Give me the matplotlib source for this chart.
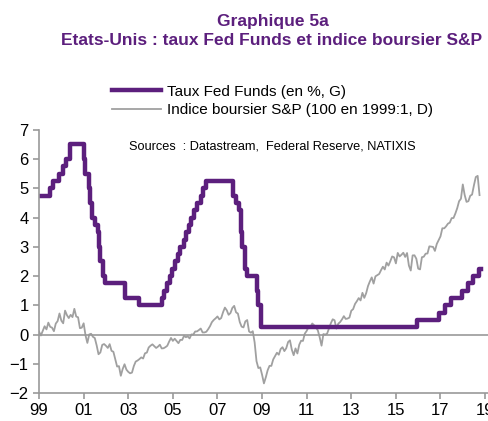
import numpy as np
import matplotlib
matplotlib.use("Agg")
import matplotlib.pyplot as plt

plt.rcParams['font.family'] = ['Liberation Sans', 'DejaVu Sans']

# Fed funds target: change dates (year, month, day) and new rate, %
fed_dates = [(1999, 1, 1), (1999, 6, 30), (1999, 8, 24), (1999, 11, 16), (2000, 2, 2),
             (2000, 3, 21), (2000, 5, 16), (2001, 1, 3), (2001, 1, 31), (2001, 3, 20),
             (2001, 4, 18), (2001, 5, 15), (2001, 6, 27), (2001, 8, 21), (2001, 9, 17),
             (2001, 10, 2), (2001, 11, 6), (2001, 12, 11), (2002, 11, 6), (2003, 6, 25),
             (2004, 6, 30), (2004, 8, 10), (2004, 9, 21), (2004, 11, 10), (2004, 12, 14),
             (2005, 2, 2), (2005, 3, 22), (2005, 5, 3), (2005, 6, 30), (2005, 8, 9),
             (2005, 9, 20), (2005, 11, 1), (2005, 12, 13), (2006, 1, 31), (2006, 3, 28),
             (2006, 5, 10), (2006, 6, 29), (2007, 9, 18), (2007, 10, 31), (2007, 12, 11),
             (2008, 1, 22), (2008, 1, 30), (2008, 3, 18), (2008, 4, 30), (2008, 10, 8),
             (2008, 10, 29), (2008, 12, 16), (2015, 12, 16), (2016, 12, 14), (2017, 3, 15),
             (2017, 6, 14), (2017, 12, 13), (2018, 3, 21), (2018, 6, 13), (2018, 9, 26),
             (2018, 10, 31)]
fed_rates = [4.75, 5.00, 5.25, 5.50, 5.75, 6.00, 6.50, 6.00, 5.50, 5.00,
             4.50, 4.00, 3.75, 3.50, 3.00, 2.50, 2.00, 1.75, 1.25, 1.00,
             1.25, 1.50, 1.75, 2.00, 2.25, 2.50, 2.75, 3.00, 3.25, 3.50,
             3.75, 4.00, 4.25, 4.50, 4.75, 5.00, 5.25, 4.75, 4.50, 4.25,
             3.50, 3.00, 2.25, 2.00, 1.50, 1.00, 0.25, 0.50, 0.75, 1.00,
             1.25, 1.50, 1.75, 2.00, 2.25, 2.25]

# S&P 500 monthly closes, 1999:1 to 2018:10
sp_start = 1999
sp_base = 1248.0
sp_close = [
    1279, 1238, 1286, 1335, 1302, 1373, 1329, 1320, 1283, 1363, 1389, 1469,
    1394, 1366, 1499, 1452, 1421, 1455, 1431, 1518, 1437, 1429, 1315, 1320,
    1366, 1240, 1160, 1249, 1256, 1224, 1211, 1134, 1041, 1060, 1139, 1148,
    1130, 1107, 1147, 1077, 1067, 990, 912, 916, 815, 886, 936, 880,
    856, 841, 848, 917, 964, 975, 990, 1008, 996, 1051, 1058, 1112,
    1131, 1145, 1126, 1107, 1121, 1141, 1102, 1104, 1115, 1130, 1174, 1212,
    1181, 1204, 1181, 1157, 1192, 1191, 1234, 1220, 1229, 1207, 1249, 1248,
    1280, 1281, 1295, 1311, 1270, 1270, 1277, 1304, 1336, 1378, 1401, 1418,
    1438, 1407, 1421, 1482, 1531, 1503, 1455, 1474, 1527, 1549, 1481, 1468,
    1379, 1331, 1323, 1386, 1400, 1280, 1267, 1283, 1165, 969, 896, 903,
    826, 735, 798, 873, 919, 919, 987, 1021, 1057, 1036, 1096, 1115,
    1074, 1104, 1169, 1187, 1089, 1031, 1102, 1049, 1141, 1183, 1181, 1258,
    1286, 1327, 1326, 1364, 1345, 1321, 1292, 1219, 1131, 1253, 1247, 1258,
    1312, 1366, 1408, 1398, 1310, 1362, 1379, 1407, 1441, 1412, 1416, 1426,
    1498, 1515, 1569, 1598, 1631, 1606, 1686, 1633, 1682, 1757, 1806, 1848,
    1783, 1859, 1872, 1884, 1924, 1960, 1931, 2003, 1972, 2018, 2068, 2059,
    1995, 2105, 2068, 2086, 2107, 2063, 2104, 1972, 1920, 2079, 2080, 2044,
    1940, 1932, 2060, 2065, 2097, 2099, 2174, 2171, 2168, 2126, 2199, 2239,
    2279, 2364, 2363, 2384, 2412, 2423, 2470, 2472, 2519, 2575, 2648, 2674,
    2824, 2714, 2641, 2648, 2705, 2718, 2816, 2902, 2914, 2712]

tick_years = list(range(1999, 2020, 2))
tick_labels = ["99", "01", "03", "05", "07", "09", "11", "13", "15", "17", "19"]

purple = "#5c1f7d"
grey = "#a0a0a0"
axcol = "#999999"

fed_x = np.array([y + (m - 1) / 12 + (d - 1) / 365 for y, m, d in fed_dates])
sp_x = sp_start + np.arange(len(sp_close)) / 12
sp_idx = np.array(sp_close) / sp_base * 100

fig = plt.figure(figsize=(4.88, 4.21), dpi=100)
ax = fig.add_axes([0.08, 0.0665, 0.92, 0.625])
ax2 = ax.twinx()

# right axis hidden, scaled so that 100 sits on the zero line
scale = 24.6
ax2.set_ylim(100 - 2 * scale, 100 + 7 * scale)
ax2.axis("off")

ax.axhline(0, color=axcol, lw=1.2, zorder=1)
l2, = ax2.plot(sp_x, sp_idx, color=grey, lw=1.3)
l1, = ax.step(fed_x, fed_rates, where="post", color=purple, lw=3.2)
ax.set_zorder(ax2.get_zorder() + 1)
ax.patch.set_visible(False)

ax.set_xlim(1999, 2019.13)
ax.set_ylim(-2, 7)
ax.set_yticks(range(-2, 8))
ax.set_xticks(tick_years)
ax.set_xticklabels(tick_labels)
ax.tick_params(labelsize=12, colors=axcol, labelcolor="black", length=4, width=1.2)
for s in ["top", "right"]:
    ax.spines[s].set_visible(False)
for s in ["left", "bottom"]:
    ax.spines[s].set_color(axcol)
    ax.spines[s].set_linewidth(1.2)

ax.text(0.2, 0.935, "Sources  : Datastream,  Federal Reserve, NATIXIS", transform=ax.transAxes,
        fontsize=9.2, va="center", ha="left")

fig.legend([l1, l2], ["Taux Fed Funds (en %, G)", "Indice boursier S&P (100 en 1999:1, D)"],
           loc="upper left", bbox_to_anchor=(0.218, 0.813), frameon=False, fontsize=11,
           handlelength=3.2, labelspacing=0.3, borderaxespad=0, handletextpad=0.4)

fig.text(0.559, 0.948, "Graphique 5a", ha="center", va="center", fontsize=12.5,
         fontweight="bold", color=purple)
fig.text(0.557, 0.903, "Etats-Unis : taux Fed Funds et indice boursier S&P", ha="center",
         va="center", fontsize=12.5, fontweight="bold", color=purple)

fig.savefig("out.png", dpi=100)
